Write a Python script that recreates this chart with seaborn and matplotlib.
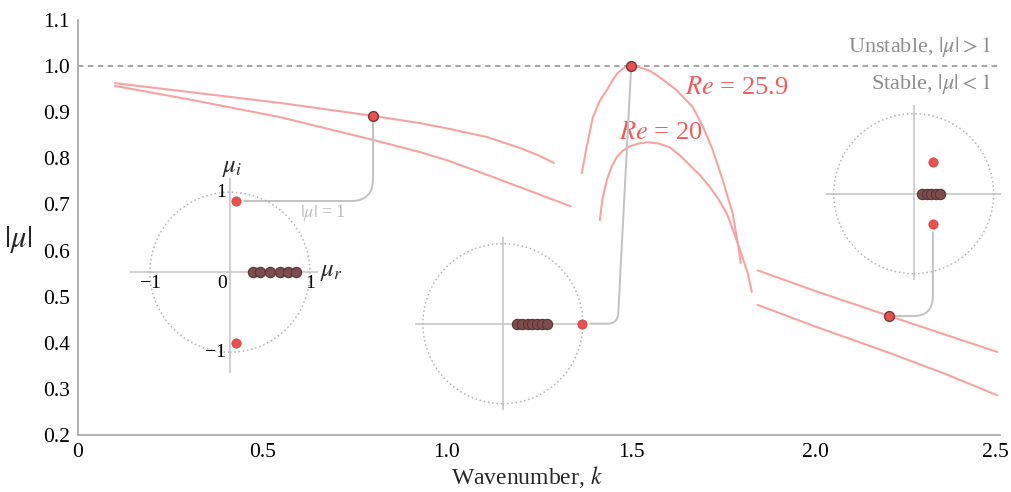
import matplotlib
matplotlib.use("Agg")
import matplotlib.pyplot as plt
import matplotlib.transforms as mtransforms
import seaborn as sns
from matplotlib.patches import Circle, ConnectionPatch

# ---------------- data ----------------
k_left_a = [0.10, 0.30, 0.55, 0.80, 0.93, 1.00, 1.11, 1.20, 1.25, 1.29]
mu_left_a = [0.963, 0.944, 0.920, 0.892, 0.876, 0.865, 0.846, 0.822, 0.806, 0.790]
k_left_b = [0.10, 0.30, 0.55, 0.80, 0.93, 1.00, 1.11, 1.22, 1.336]
mu_left_b = [0.957, 0.928, 0.889, 0.840, 0.813, 0.796, 0.764, 0.731, 0.696]

k_hump_a = [1.366, 1.379, 1.396, 1.415, 1.434, 1.450, 1.463, 1.480, 1.500, 1.520,
            1.550, 1.577, 1.623, 1.667, 1.695, 1.721, 1.748, 1.775, 1.789, 1.797]
mu_hump_a = [0.768, 0.824, 0.889, 0.925, 0.948, 0.970, 0.985, 0.996, 1.000, 0.998,
             0.990, 0.976, 0.948, 0.911, 0.868, 0.818, 0.753, 0.681, 0.616, 0.573]
k_hump_b = [1.415, 1.422, 1.434, 1.447, 1.461, 1.478, 1.496, 1.520, 1.545, 1.575,
            1.604, 1.630, 1.659, 1.686, 1.713, 1.737, 1.759, 1.789, 1.816, 1.827]
mu_hump_b = [0.666, 0.712, 0.753, 0.782, 0.803, 0.817, 0.826, 0.832, 0.835, 0.832,
             0.824, 0.808, 0.785, 0.764, 0.738, 0.711, 0.681, 0.616, 0.551, 0.510]

k_right_a = [1.843, 2.00, 2.20, 2.35, 2.493]
mu_right_a = [0.557, 0.512, 0.458, 0.418, 0.380]
k_right_b = [1.843, 2.00, 2.20, 2.35, 2.493]
mu_right_b = [0.482, 0.435, 0.378, 0.333, 0.286]

k_marks = [0.80, 1.50, 2.20]
mu_marks = [0.892, 1.000, 0.458]

# eigenvalue insets: (real, imag)
in1_red_r = [0.075, 0.075]
in1_red_i = [0.89, -0.89]
in1_dark_r = [0.29, 0.38, 0.50, 0.62, 0.72, 0.82]
in2_red_r = [0.99]
in2_red_i = [0.0]
in2_dark_r = [0.18, 0.24, 0.31, 0.37, 0.43, 0.49, 0.55]
in3_red_r = [0.24, 0.24]
in3_red_i = [0.39, -0.38]
in3_dark_r = [0.10, 0.16, 0.22, 0.28, 0.33]

x_ticks = [0, 0.5, 1.0, 1.5, 2.0, 2.5]
x_tick_labels = ["0", "0.5", "1.0", "1.5", "2.0", "2.5"]
y_ticks = [0.2, 0.3, 0.4, 0.5, 0.6, 0.7, 0.8, 0.9, 1.0, 1.1]
y_tick_labels = ["0.2", "0.3", "0.4", "0.5", "0.6", "0.7", "0.8", "0.9", "1.0", "1.1"]

# ---------------- style ----------------
sns.set_theme(style="white")
plt.rcParams["font.family"] = ["Liberation Serif", "DejaVu Serif"]
plt.rcParams["mathtext.fontset"] = "stix"

LINE = "#f7a3a3"
RED_TXT = "#f05c5c"
RED_PT = "#e9504e"
DARK_PT = "#7e4c4c"
DARK_EDGE = "#583434"
CONN = "#c2c2c2"

fig = plt.figure(figsize=(10.12, 4.92), dpi=100)
ax = fig.add_axes([78 / 1012, 1 - 435 / 492, 922 / 1012, 415 / 492])

for kx, my in [(k_left_a, mu_left_a), (k_left_b, mu_left_b),
               (k_hump_a, mu_hump_a), (k_hump_b, mu_hump_b),
               (k_right_a, mu_right_a), (k_right_b, mu_right_b)]:
    sns.lineplot(x=kx, y=my, ax=ax, color=LINE, lw=1.5, sort=False,
                 estimator=None, zorder=3)

ax.axhline(1.0, color="#9c9c9c", lw=1.3, ls=(0, (3, 2.5)), zorder=2)

ax.set_xlim(0, 2.5)
ax.set_ylim(0.2, 1.1)
ax.set_xticks(x_ticks)
ax.set_xticklabels(x_tick_labels)
ax.set_yticks(y_ticks)
ax.set_yticklabels(y_tick_labels)
ax.tick_params(direction="in", length=6, width=1, color="#b8b8b8",
               labelsize=15.5, pad=6, labelcolor="black")
# keep the last x tick label inside the canvas
last = ax.get_xticklabels()[-1]
last.set_transform(last.get_transform() +
                   mtransforms.ScaledTranslation(-5 / 100, 0, fig.dpi_scale_trans))
for s in ["top", "right"]:
    ax.spines[s].set_visible(False)
for s in ["left", "bottom"]:
    ax.spines[s].set_color("#a5a5a5")
    ax.spines[s].set_linewidth(1.2)

ax.set_xlabel("Wavenumber, $k$", fontsize=17)
ax.xaxis.set_label_coords(0.487, -0.07)
ax.set_ylabel("$|\\mu|$", fontsize=22, rotation=0, va="center", ha="center")
ax.yaxis.set_label_coords(-0.065, 0.47)

ax.text(2.475, 1.041, "Unstable, $|\\mu| > 1$", ha="right", va="center",
        fontsize=16, color="#8c8c8c")
ax.text(2.475, 0.962, "Stable, $|\\mu| < 1$", ha="right", va="center",
        fontsize=16, color="#8c8c8c")
ax.text(1.646, 0.952, "$Re$ = 25.9", ha="left", va="center", fontsize=19,
        color=RED_TXT)
ax.text(1.468, 0.855, "$Re$ = 20", ha="left", va="center", fontsize=19,
        color=RED_TXT)

# ---------------- insets ----------------
SX = 80 / 368.8   # k per unit of mu-plane
SY = 80 / 461.1   # |mu| per unit of mu-plane


def make_inset(cx, cy, xl, xr, yb, yt):
    ia = ax.inset_axes([cx + xl * SX, cy + yb * SY, (xr - xl) * SX, (yt - yb) * SY],
                       transform=ax.transData)
    ia.set_xlim(xl, xr)
    ia.set_ylim(yb, yt)
    ia.set_xticks([])
    ia.set_yticks([])
    ia.axis("off")
    ia.patch.set_visible(False)
    ia.axhline(0, color="#cccccc", lw=1.3, zorder=1)
    ia.axvline(0, color="#cccccc", lw=1.3, zorder=1)
    ia.add_patch(Circle((0, 0), 1, fill=False, ls=(0, (1, 1.8)), lw=1.1,
                        color="#b3b3b3", zorder=1))
    return ia


def dots(ia, dark_r, red_r, red_i):
    sns.scatterplot(x=dark_r, y=[0.0] * len(dark_r), ax=ia, s=55, color=DARK_PT,
                    edgecolor=DARK_EDGE, linewidth=0.8, zorder=3, clip_on=False)
    sns.scatterplot(x=red_r, y=red_i, ax=ia, s=45, color=RED_PT,
                    edgecolor="#c84545", linewidth=0.5, zorder=4, clip_on=False)
    ia.set_xlabel("")
    ia.set_ylabel("")
    ia.set_xticks([])
    ia.set_yticks([])


in1 = make_inset(0.412, 0.553, -1.25, 1.10, -1.26, 1.18)
dots(in1, in1_dark_r, in1_red_r, in1_red_i)
tk = dict(fontsize=14, color="black")
in1.text(-1.0, -0.04, "\u22121", ha="center", va="top", **tk)
in1.text(-0.04, -0.04, "0", ha="right", va="top", **tk)
in1.text(1.0, -0.04, "1", ha="center", va="top", **tk)
in1.text(-0.05, 1.0, "1", ha="right", va="center", **tk)
in1.text(-0.05, -1.0, "\u22121", ha="right", va="center", **tk)
in1.text(1.13, 0.0, "$\\mu_r$", ha="left", va="center", fontsize=18)
in1.text(0.03, 1.16, "$\\mu_i$", ha="center", va="bottom", fontsize=18)
in1.text(0.87, 0.75, "$|\\mu|$ = 1", ha="left", va="center", fontsize=13,
         color="#bdbdbd")

in2 = make_inset(1.152, 0.4414, -1.10, 1.0, -1.08, 1.08)
dots(in2, in2_dark_r, in2_red_r, in2_red_i)

in3 = make_inset(2.266, 0.7234, -1.10, 1.09, -1.08, 1.11)
dots(in3, in3_dark_r, in3_red_r, in3_red_i)

# ---------------- connectors ----------------
conns = [
    (in1, (in1_red_r[0], in1_red_i[0]), (k_marks[0], mu_marks[0]),
     "angle,angleA=0,angleB=90,rad=22"),
    (in2, (in2_red_r[0], in2_red_i[0]), (k_marks[1], mu_marks[1]),
     "angle,angleA=0,angleB=87,rad=10"),
    (in3, (in3_red_r[1], in3_red_i[1]), (k_marks[2], mu_marks[2]),
     "angle,angleA=-90,angleB=0,rad=20"),
]
for ia, pa, pb, style in conns:
    con = ConnectionPatch(xyA=pa, coordsA=ia.transData, xyB=pb, coordsB=ax.transData,
                          arrowstyle="-", connectionstyle=style, color=CONN, lw=1.4,
                          shrinkA=6, shrinkB=4, zorder=4)
    ax.add_artist(con)

sns.scatterplot(x=k_marks, y=mu_marks, ax=ax, s=50, color=RED_PT,
                edgecolor="#6e3a3a", linewidth=1.0, zorder=6, clip_on=False)

fig.savefig("out.png", dpi=100)
